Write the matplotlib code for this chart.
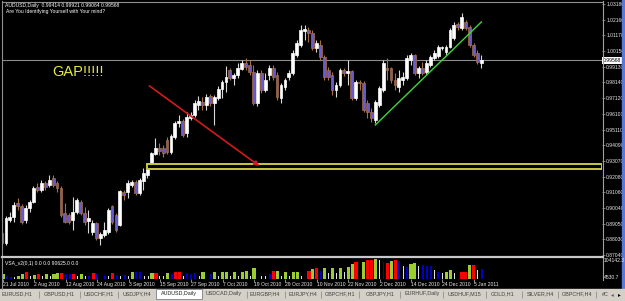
import numpy as np
import matplotlib
matplotlib.use("Agg")
import matplotlib.pyplot as plt
from matplotlib import patches

# ---- data: AUDUSD daily, 21 Jul 2010 .. 7 Jan 2011 ----
opens = [
    .8844, .8780, .8928, .8947, .9037, .9018, .8928, .9005, .9044, .9141,
    .9121, .9166, .9153, .9199, .9166, .9134, .8973, .8960, .8928, .8979,
    .9044, .8973, .8921, .8851, .8909, .8812, .8831, .8851, .9018, .8960,
    .8896, .9108, .9108, .9153, .9173, .9102, .9179, .9218, .9295, .9353,
    .9392, .9392, .9444, .9366, .9463, .9553, .9566, .9489, .9585, .9605,
    .9669, .9688, .9669, .9727, .9682, .9714, .9772, .9817, .9895, .9843,
    .9862, .9901, .9940, .9927, .9882, .9682, .9875, .9766, .9862, .9908,
    .9862, .9714, .9785, .9850, .9875, .9991, 1.0056, 1.0146, 1.0152, 1.0133,
    1.0036, 1.0056, .9978, .9895, .9862, .9766, .9798, .9895, .9875, .9888,
    .9714, .9817, .9811, .9682, .9624, .9572, .9669, .9766, .9908, .9908,
    .9830, .9785, .9830, .9843, .9959, .9991, .9875, .9908, .9882, .9927,
    .9972, .9985, 1.0036, 1.0011, 1.0043, 1.0101, 1.0191, 1.0165, 1.0204, 1.0172,
    1.0056, 1.0004, .99414,
]
highs = [
    .8863, .8954, .8979, .9044, .9070, .9031, .9025, .9057, .9147, .9166,
    .9186, .9179, .9218, .9218, .9179, .9147, .9037, .8973, .9076, .9070,
    .9057, .9012, .8992, .8928, .8915, .8851, .8915, .9005, .9025, .8973,
    .9121, .9121, .9186, .9186, .9186, .9199, .9263, .9257, .9366, .9456,
    .9424, .9411, .9463, .9482, .9566, .9605, .9579, .9624, .9624, .9701,
    .9727, .9721, .9740, .9740, .9733, .9792, .9830, .9920, .9908, .9875,
    .9940, .9959, .9972, .9959, .9927, .9895, .9895, .9875, .9927, .9927,
    .9882, .9811, .9843, .9895, 1.0024, 1.0088, 1.0185, 1.0185, 1.0172, 1.0152,
    1.0088, 1.0088, .9991, .9914, .9882, .9817, .9908, .9908, .9959, .9895,
    .9830, .9830, .9824, .9701, .9650, .9701, .9792, .9959, .9972, .9914,
    .9875, .9895, .9882, .9991, 1.0004, .9998, .9920, .9946, .9959, .9991,
    1.0024, 1.0056, 1.0049, 1.0056, 1.0165, 1.0204, 1.0204, 1.0262, 1.0217, 1.0185,
    1.0069, 1.0024, .99921,
]
lows = [
    .8747, .8767, .8915, .8915, .8992, .8902, .8909, .8979, .9037, .9108,
    .9108, .9121, .9141, .9141, .9108, .8947, .8909, .8902, .8863, .8967,
    .8960, .8896, .8844, .8831, .8799, .8767, .8818, .8838, .8902, .8851,
    .8889, .9057, .9070, .9141, .9089, .9089, .9121, .9199, .9289, .9347,
    .9347, .9334, .9353, .9353, .9450, .9527, .9463, .9463, .9572, .9592,
    .9637, .9637, .9637, .9663, .9540, .9701, .9714, .9753, .9830, .9798,
    .9843, .9895, .9895, .9862, .9669, .9663, .9746, .9753, .9830, .9830,
    .9701, .9682, .9766, .9830, .9862, .9978, 1.0043, 1.0088, 1.0075, 1.0024,
    1.0011, .9959, .9830, .9830, .9733, .9721, .9785, .9856, .9798, .9701,
    .9701, .9766, .9624, .9585, .9560, .9553, .9656, .9753, .9830, .9811,
    .9766, .9753, .9798, .9830, .9927, .9862, .9843, .9862, .9869, .9914,
    .9959, .9972, 1.0024, .9991, 1.0036, 1.0088, 1.0152, 1.0152, 1.0152, 1.0043,
    .9978, .9933, .99064,
]
closes = [
    .8780, .8941, .8947, .9025, .9018, .8915, .9005, .9044, .9134, .9121,
    .9166, .9141, .9186, .9153, .9134, .8960, .8915, .8915, .8979, .9057,
    .8973, .8915, .8941, .8909, .8812, .8838, .8863, .8992, .8915, .8863,
    .9115, .9089, .9166, .9173, .9102, .9186, .9231, .9257, .9360, .9392,
    .9373, .9360, .9366, .9469, .9553, .9566, .9476, .9592, .9605, .9682,
    .9695, .9669, .9721, .9682, .9721, .9772, .9817, .9850, .9843, .9862,
    .9908, .9940, .9914, .9882, .9682, .9875, .9766, .9830, .9908, .9850,
    .9721, .9798, .9830, .9875, 1.0004, 1.0069, 1.0152, 1.0159, 1.0133, 1.0036,
    1.0069, .9978, .9850, .9850, .9766, .9798, .9895, .9875, .9888, .9714,
    .9817, .9811, .9637, .9624, .9585, .9688, .9779, .9940, .9895, .9830,
    .9798, .9843, .9850, .9972, .9991, .9875, .9908, .9875, .9940, .9978,
    1.0004, 1.0043, 1.0043, 1.0043, 1.0152, 1.0185, 1.0172, 1.0236, 1.0165, 1.0056,
    .9991, .9946, .99568,
]

volumes = [
    27800, 17400, 10400, 10400, 17400, 27800, 34700, 13900, 22600, 24300,
    13900, 24300, 13900, 27800, 31200, 31200, 27800, 27800, 27800, 13900,
    27800, 13900, 17400, 31200, 27800, 13900, 17400, 13900, 31200, 20800,
    13900, 20800, 13900, 38200, 34700, 34700, 13900, 13900, 31200, 31200,
    13900, 13900, 31200, 27800, 34700, 38200, 13900, 31200, 27800, 31200,
    13900, 38200, 10400, 24300, 38200, 13900, 38200, 38200, 13900, 38200,
    17400, 34700, 41700, 17400, 55500, 13900, 17400, 13900, 27800, 41700,
    41700, 17400, 38200, 13900, 38200, 38200, 13900, 24300, 41700, 52100,
    59000, 39900, 57300, 31200, 55500, 31200, 57300, 38200, 62500, 79800,
    86800, 57300, 86800, 97200, 100700, 104100, 97200, 86800, 83300, 93700,
    100700, 93700, 66000, 62500, 79800, 83300, 66000, 72900, 69400, 66000,
    45100, 38200, 31200, 34700, 45100, 31200, 27800, 34700, 38200, 72900,
    72900, 45100, 52100,
]
vol_kinds = list(
    "gbbwggrwgr" "wgwggrbbrw" "gwbrbwbwrb" "wbwgbbwwgr" "wwgbrrwbbb"
    "wgwbgwggwg" "wggwgwwwbr" "gwgwggwwrg" "rbgwgwgwgg" "rwgrrgwbrg"
    "rbwbggwbbb" "wbwggwwrrg" "rwb"
)

date_labels = ["21 Jul 2010", "2 Aug 2010", "12 Aug 2010", "24 Aug 2010",
               "3 Sep 2010", "15 Sep 2010", "27 Sep 2010", "7 Oct 2010",
               "19 Oct 2010", "29 Oct 2010", "10 Nov 2010", "22 Nov 2010",
               "2 Dec 2010", "14 Dec 2010", "24 Dec 2010", "5 Jan 2011"]
price_ticks = [1.03180, 1.02160, 1.01170, 1.00150, 0.99130, 0.98140, 0.97120,
               0.96100, 0.95110, 0.94090, 0.93070, 0.92080, 0.91060, 0.90040,
               0.89050, 0.88030, 0.87040]

tabs = ["EURUSD,H1", "GBPUSD,H1", "USDCHF,H1", "USDJPY,H4", "AUDUSD,Daily",
        "USDCAD,Daily", "EURGBP,H4", "EURJPY,H4", "GBPCHF,H1", "GBPJPY,H1",
        "EURHUF,Daily", "USDHUF,M15", "GOLD,H1", "SILVER,H4", "GBPCHF,H4", "#C"]
tab_centers = [17, 59, 99, 137, 179, 224, 265, 303, 340, 380, 422, 464, 503, 540, 577, 605]
tab_seps = [39, 80, 118, 247, 285, 321, 359, 400, 443, 486, 522, 558, 596]

# chart objects drawn by the trader (bar index, price)
gap_zone = (36.9, 0.9257, 0.9289)
trend_x = [95.0, 122.0]
trend_y = [0.9540, 1.0204]
arrow_from = (37.5, 0.9792)
arrow_to = (65.5, 0.9276)
gap_text_pos = (12.7, 0.9882)

W, H = 625, 301
SMALL = ["Liberation Sans Narrow", "Liberation Sans", "DejaVu Sans"]
plt.rcParams["font.family"] = SMALL


def rect(x0, y0, x1, y1):
    return [x0 / W, 1 - y1 / H, (x1 - x0) / W, (y1 - y0) / H]


fig = plt.figure(figsize=(W / 100, H / 100), dpi=100, facecolor="black")
XLIM = (0.25, 152.7)

# ---- price pane ----
ax = fig.add_axes(rect(3, 3, 602, 256))
ax.set_facecolor("black")
ax.set_xlim(*XLIM)
ax.set_ylim(0.8696, 1.0326)
for s in ax.spines.values():
    s.set_visible(False)

x = np.arange(len(closes))
o = np.array(opens)
c = np.array(closes)
bull = c >= o
wick_col = np.where(bull, "#d8d8d8", "#a8703c")
ax.vlines(x, lows, highs, colors=wick_col, lw=0.8, zorder=2)
body_lo = np.minimum(o, c)
body_h = np.maximum(np.abs(c - o), 0.0004)
ax.bar(x, body_h, bottom=body_lo, width=0.72,
       color=np.where(bull, "white", "#6a5acd"),
       edgecolor=np.where(bull, "white", "#a8703c"), lw=0.5, zorder=3)

ax.axhline(closes[-1], color="#8c8c8c", lw=0.8, zorder=1)

ax.yaxis.tick_right()
ax.set_yticks(price_ticks)
ax.set_yticklabels([f"{v:.5f}" for v in price_ticks])
ax.tick_params(axis="y", colors="#a0a0a0", labelcolor="#e8e8e8", labelsize=3.6,
               length=2, width=0.5, pad=1)
ax.set_xticks([])
ax.text(1.002, closes[-1], f"{closes[-1]:.5f}", transform=ax.get_yaxis_transform(),
        fontsize=3.6, color="black", va="center", ha="left",
        bbox=dict(boxstyle="square,pad=0.2", fc="white", ec="none"), clip_on=False)

gx, glo, ghi = gap_zone
ax.add_patch(patches.Rectangle((gx, glo), XLIM[1] - gx, ghi - glo, fill=False,
                               ec="#c8c840", lw=1.4, zorder=4))
ax.plot(trend_x, trend_y, color="#3ad83a", lw=1.0, zorder=5)
ax.annotate("", xy=arrow_to, xytext=arrow_from,
            arrowprops=dict(arrowstyle="-|>", color="#d41a1a", lw=1.2,
                            mutation_scale=7, shrinkA=0, shrinkB=0), zorder=5)
ax.text(*gap_text_pos, "GAP!!!!!", color="#eaea40", fontsize=10.5,
        family=["Liberation Sans", "DejaVu Sans"], va="center", ha="left")

# ---- volume pane ----
av = fig.add_axes(rect(3, 258, 602, 279))
av.set_facecolor("black")
av.set_xlim(*XLIM)
av.set_ylim(0, 109400)
for s in av.spines.values():
    s.set_visible(False)
kind_color = {"g": "#9acd32", "r": "#ff0000", "b": "#0000cd", "w": "#e0e0e0"}
kind_width = {"g": 0.8, "r": 0.8, "b": 0.5, "w": 0.22}
av.bar(x, volumes, width=[kind_width[k] for k in vol_kinds],
       color=[kind_color[k] for k in vol_kinds], lw=0)
av.axhline(0, color="white", lw=0.6, ls=(0, (1, 2)))
av.set_yticks([])
av.set_xticks(range(0, 8 * len(date_labels), 8))
av.set_xticklabels(date_labels)
for t in av.get_xticklabels():
    t.set_ha("left")
av.tick_params(axis="x", colors="#c0c0c0", labelcolor="#e8e8e8", labelsize=3.6,
               length=2, width=0.5, pad=0.5)

# ---- frame, header, tabs ----
ov = fig.add_axes([0, 0, 1, 1])
ov.set_xlim(0, W)
ov.set_ylim(H, 0)
ov.axis("off")
ov.patch.set_alpha(0)
ov.plot([2, 603], [1.5, 1.5], color="#909090", lw=0.8)
ov.plot([2, 2], [1, 289], color="#909090", lw=0.8)
ov.plot([602.5, 602.5], [1, 280], color="#a0a0a0", lw=0.8)
ov.plot([2, 603], [256.8, 256.8], color="#c8c8c8", lw=1.6)
ov.add_patch(patches.Rectangle((622, 0), 3, 289, color="#5a78d8"))

ov.text(5, 5, "AUDUSD,Daily  0.99414 0.99921 0.99064 0.99568", color="white",
        fontsize=3.6, va="center", ha="left")
ov.text(6, 11, "Are You Identifying Yourself with Your mind?", color="white",
        fontsize=3.6, va="center", ha="left")
ov.text(5, 263, "VSA_v2(0,1) 0.0 0.0 90625.0 0.0", color="white",
        fontsize=3.6, va="center", ha="left")
ov.text(604, 261, "104142.3", color="#e8e8e8", fontsize=3.6, va="center", ha="left")
ov.text(604, 277.5, "4530.7", color="#e8e8e8", fontsize=3.6, va="center", ha="left")

ov.add_patch(patches.Rectangle((0, 288.5), W, H - 288.5, color="#d4d0c8"))
ov.add_patch(patches.Rectangle((156, 288.5), 46, 10.5, fc="white", ec="#808080", lw=0.6))
ov.vlines(tab_seps, 290.5, 298, color="#909090", lw=0.6)
for name, cx in zip(tabs, tab_centers):
    ov.text(cx, 294, name, fontsize=3.9, color="#202020" if name == "AUDUSD,Daily" else "#404040",
            ha="center", va="center")
ov.text(612, 294.5, "\u25c2", fontsize=4, color="#606060", ha="center", va="center",
        family=["DejaVu Sans"])
ov.text(619, 294.5, "\u25b8", fontsize=4, color="black", ha="center", va="center",
        family=["DejaVu Sans"])

fig.savefig("out.png", dpi=100, facecolor="black")
